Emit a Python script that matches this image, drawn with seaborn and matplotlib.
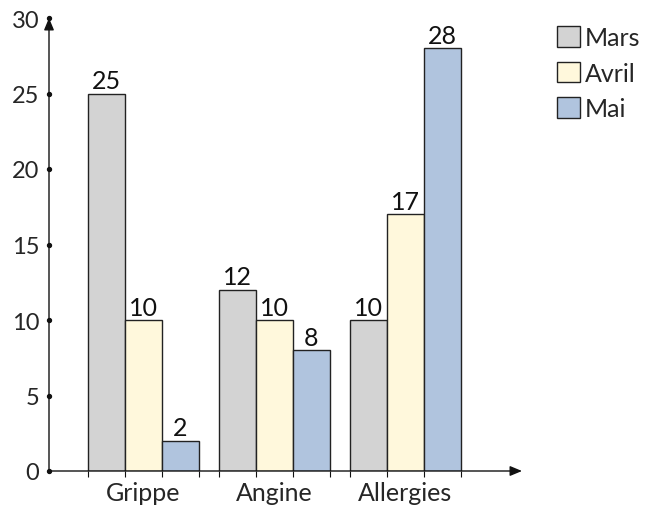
import matplotlib
matplotlib.use("Agg")
import matplotlib.pyplot as plt
import seaborn as sns
import pandas as pd
from matplotlib.patches import Patch

categories = ["Grippe", "Angine", "Allergies"]
months = ["Mars", "Avril", "Mai"]
mars = [25, 12, 10]
avril = [10, 10, 17]
mai = [2, 8, 28]
colors = ["#d3d3d3", "#fff8dc", "#b0c4de"]
yticks = [0, 5, 10, 15, 20, 25, 30]

sns.set_theme(style="white")
plt.rcParams['font.family'] = ['Lato', 'DejaVu Sans']
FS = 18

rows = []
for m, vals in zip(months, [mars, avril, mai]):
    for c, v in zip(categories, vals):
        rows.append({"cat": c, "mois": m, "val": v})
df = pd.DataFrame(rows)

fig = plt.figure(figsize=(6.52, 5.06), dpi=100)
ax = fig.add_axes([49/652, 34/506, (522-49)/652, (472-19)/506])

sns.barplot(data=df, x="cat", y="val", hue="mois", order=categories,
            hue_order=months, palette=colors, width=0.85, dodge=True,
            edgecolor="#222222", linewidth=1.0, ax=ax, legend=False,
            saturation=1)

for cont in ax.containers:
    ax.bar_label(cont, fontsize=FS, padding=1, color="#111111")

xl = (-0.72, 2.89)
ax.set_xlim(*xl)
ax.set_ylim(0, 30)
ax.set_xlabel("")
ax.set_ylabel("")
for s in ax.spines.values():
    s.set_visible(False)

# axes arrows
ax.annotate("", xy=(1.0, 0), xytext=(0, 0), xycoords="axes fraction",
            arrowprops=dict(arrowstyle="-|>,head_length=0.6,head_width=0.25",
                            color="#111111", lw=1.0, shrinkA=0, shrinkB=0))
ax.annotate("", xy=(0, 1.0), xytext=(0, 0), xycoords="axes fraction",
            arrowprops=dict(arrowstyle="-|>,head_length=0.6,head_width=0.25",
                            color="#111111", lw=1.0, shrinkA=0, shrinkB=0))

ax.set_yticks(yticks)
ax.set_yticklabels([str(t) for t in yticks], fontsize=FS - 1)
ax.tick_params(axis="y", length=0, pad=7)
ax.scatter([xl[0]] * len(yticks), yticks, s=8, color="#111111", zorder=5,
           clip_on=False)

ax.set_xticks(range(len(categories)))
ax.set_xticklabels(categories, fontsize=FS)
ax.tick_params(axis="x", which="major", length=0, pad=7)
edges = set()
for p in ax.patches:
    x0 = p.get_x()
    edges.add(round(x0, 4))
    edges.add(round(x0 + p.get_width(), 4))
ax.set_xticks(sorted(edges), minor=True)
ax.tick_params(axis="x", which="minor", length=4, width=0.8, color="#111111",
               direction="out", bottom=True)

handles = [Patch(facecolor=c, edgecolor="#222222", linewidth=1.0) for c in colors]
fig.legend(handles, months, loc="upper left", bbox_to_anchor=(557/652, 1 - 27/506),
           frameon=False, fontsize=FS, handlelength=0.9, handleheight=0.9,
           handletextpad=0.2, labelspacing=0.5, borderaxespad=0, borderpad=0)

fig.savefig("out.png", dpi=100)
